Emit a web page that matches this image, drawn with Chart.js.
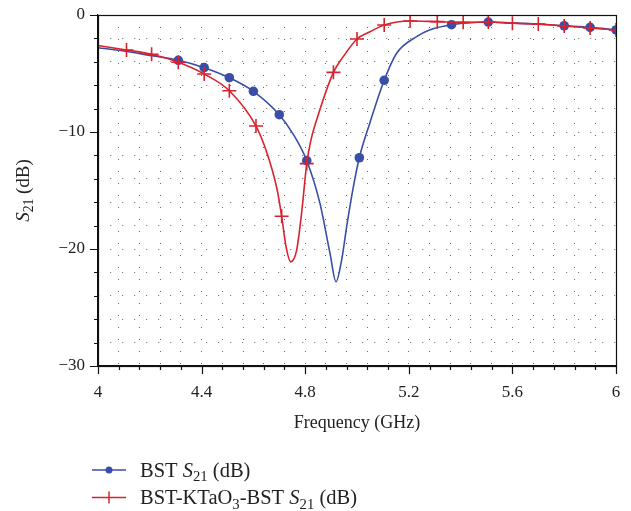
<!DOCTYPE html>
<html>
<head>
<meta charset="utf-8">
<script src="https://cdn.jsdelivr.net/npm/chart.js@4.4.1/dist/chart.umd.min.js"></script>
<style>
  html, body { margin: 0; padding: 0; background: #fff; }
  #wrap { width: 631px; height: 511px; }
</style>
</head>
<body>
<div id="wrap"><canvas id="chart" width="631" height="511"></canvas></div>
<script>
// BST curve
const bstFreq = [4.0, 4.1, 4.2, 4.31, 4.41, 4.507, 4.6, 4.7, 4.754, 4.806, 4.857, 4.896, 4.919, 4.941, 4.96, 4.985, 5.009, 5.05, 5.105, 5.153, 5.23, 5.28, 5.365, 5.507, 5.6, 5.7, 5.8, 5.9, 6.0];
const bstS21  = [-2.8, -3.08, -3.45, -3.87, -4.5, -5.36, -6.52, -8.52, -10.2, -12.45, -16.1, -20.4, -22.8, -20.9, -18.1, -14.8, -12.2, -9.2, -5.58, -3.27, -1.85, -1.28, -0.83, -0.6, -0.68, -0.78, -0.92, -1.06, -1.28];
const bstMarkFreq = [4.31, 4.41, 4.507, 4.6, 4.7, 4.806, 5.009, 5.105, 5.365, 5.507, 5.8, 5.9, 6.0];
const bstMarkS21  = [-3.87, -4.5, -5.36, -6.52, -8.52, -12.45, -12.2, -5.58, -0.83, -0.6, -0.92, -1.06, -1.28];

// BST-KTaO3-BST curve
const ktoFreq = [4.0, 4.11, 4.207, 4.31, 4.41, 4.507, 4.61, 4.651, 4.692, 4.709, 4.726, 4.744, 4.767, 4.786, 4.806, 4.822, 4.844, 4.909, 4.947, 5.0, 5.05, 5.105, 5.205, 5.31, 5.41, 5.507, 5.6, 5.7, 5.8, 5.9, 6.0];
const ktoS21  = [-2.6, -2.99, -3.36, -4.04, -5.04, -6.47, -9.49, -11.7, -14.96, -17.2, -19.8, -21.1, -20.1, -16.95, -12.7, -10.7, -8.97, -4.9, -3.56, -2.05, -1.43, -0.85, -0.51, -0.57, -0.63, -0.6, -0.71, -0.77, -0.94, -1.11, -1.28];
const ktoMarkFreq = [4.11, 4.207, 4.31, 4.41, 4.507, 4.61, 4.709, 4.806, 4.909, 5.0, 5.105, 5.205, 5.31, 5.41, 5.507, 5.6, 5.7, 5.8, 5.9, 6.0];
const ktoMarkS21  = [-2.99, -3.36, -4.04, -5.04, -6.47, -9.49, -17.2, -12.7, -4.9, -2.05, -0.85, -0.51, -0.57, -0.63, -0.6, -0.71, -0.77, -0.94, -1.11, -1.28];

const xMajor = [4, 4.4, 4.8, 5.2, 5.6, 6];
const yMajor = [0, -10, -20, -30];

const BLUE = '#3a4ea6';
const RED = '#d8232f';
const SERIF = '"Liberation Serif", "DejaVu Serif", serif';

const pts = (xs, ys) => xs.map((x, i) => ({ x: x, y: ys[i] }));
const isMajor = (v, list) => list.some(m => Math.abs(m - v) < 1e-6);

// draw text made of pieces (normal / italic / subscript)
function drawRich(ctx, parts, x, y, size) {
  let cx = x;
  parts.forEach(p => {
    const fs = p.sub ? size * 0.72 : size;
    ctx.font = (p.it ? 'italic ' : '') + fs + 'px ' + SERIF;
    ctx.fillText(p.t, cx, y + (p.sub ? size * 0.22 : 0));
    cx += ctx.measureText(p.t).width;
  });
  return cx - x;
}
function richWidth(ctx, parts, size) {
  let w = 0;
  parts.forEach(p => {
    const fs = p.sub ? size * 0.72 : size;
    ctx.font = (p.it ? 'italic ' : '') + fs + 'px ' + SERIF;
    w += ctx.measureText(p.t).width;
  });
  return w;
}

const decorations = {
  id: 'decorations',
  afterDraw(chart) {
    const ctx = chart.ctx;
    const a = chart.chartArea;
    const xs = chart.scales.x, ys = chart.scales.y;
    ctx.save();
    ctx.strokeStyle = '#111';
    ctx.lineWidth = 1.2;
    // frame
    ctx.strokeRect(Math.round(a.left) + 0.5, Math.round(a.top) + 0.5, Math.round(a.right - a.left), Math.round(a.bottom - a.top));
    // tick marks (outside)
    ctx.beginPath();
    xs.ticks.forEach(t => {
      const px = Math.round(xs.getPixelForValue(t.value)) + 0.5;
      const len = isMajor(t.value, xMajor) ? 8 : 4;
      ctx.moveTo(px, a.bottom);
      ctx.lineTo(px, a.bottom + len);
    });
    ys.ticks.forEach(t => {
      const py = Math.round(ys.getPixelForValue(t.value)) + 0.5;
      const len = isMajor(t.value, yMajor) ? 8 : 4;
      ctx.moveTo(a.left, py);
      ctx.lineTo(a.left - len, py);
    });
    ctx.stroke();

    // y axis title
    ctx.fillStyle = '#222';
    ctx.textBaseline = 'alphabetic';
    const yParts = [{ t: 'S', it: true }, { t: '21', sub: true }, { t: ' (dB)' }];
    const yw = richWidth(ctx, yParts, 19);
    ctx.save();
    ctx.translate(29, (a.top + a.bottom) / 2 + yw / 2);
    ctx.rotate(-Math.PI / 2);
    drawRich(ctx, yParts, 0, 0, 19);
    ctx.restore();

    // legend
    const rows = [
      { color: BLUE, style: 'dot', parts: [{ t: 'BST ' }, { t: 'S', it: true }, { t: '21', sub: true }, { t: ' (dB)' }] },
      { color: RED, style: 'cross', parts: [{ t: 'BST-KTaO' }, { t: '3', sub: true }, { t: '-BST ' }, { t: 'S', it: true }, { t: '21', sub: true }, { t: ' (dB)' }] }
    ];
    rows.forEach((r, i) => {
      const ly = 470 + i * 27.5;
      ctx.strokeStyle = r.color;
      ctx.fillStyle = r.color;
      ctx.lineWidth = 1.5;
      ctx.beginPath();
      ctx.moveTo(92, ly); ctx.lineTo(126, ly);
      ctx.stroke();
      if (r.style === 'dot') {
        ctx.beginPath(); ctx.arc(109, ly, 3.5, 0, Math.PI * 2); ctx.fill();
      } else {
        ctx.beginPath();
        ctx.moveTo(109, ly - 6); ctx.lineTo(109, ly + 6);
        ctx.stroke();
      }
      ctx.fillStyle = '#222';
      drawRich(ctx, r.parts, 140, ly + 6.5, 20.5);
    });
    ctx.restore();
  }
};

new Chart(document.getElementById('chart').getContext('2d'), {
  type: 'line',
  data: {
    datasets: [
      {
        label: 'BST-KTaO3-BST S21 (dB)',
        data: pts(ktoMarkFreq, ktoMarkS21),
        showLine: false,
        pointStyle: 'cross',
        pointRadius: 7,
        pointBorderWidth: 1.6,
        borderColor: RED,
        backgroundColor: RED,
        order: 0
      },
      {
        label: 'BST-KTaO3-BST curve',
        data: pts(ktoFreq, ktoS21),
        borderColor: RED,
        borderWidth: 1.6,
        pointRadius: 0,
        cubicInterpolationMode: 'monotone',
        fill: false,
        order: 1
      },
      {
        label: 'BST S21 (dB)',
        data: pts(bstMarkFreq, bstMarkS21),
        showLine: false,
        pointStyle: 'circle',
        pointRadius: 4.8,
        pointBorderWidth: 0,
        borderColor: BLUE,
        backgroundColor: BLUE,
        order: 2
      },
      {
        label: 'BST curve',
        data: pts(bstFreq, bstS21),
        borderColor: BLUE,
        borderWidth: 1.6,
        pointRadius: 0,
        cubicInterpolationMode: 'monotone',
        fill: false,
        order: 3
      }
    ]
  },
  options: {
    responsive: false,
    animation: false,
    events: [],
    layout: { padding: { left: 0, top: 15, right: 15, bottom: 77 } },
    plugins: {
      legend: { display: false },
      tooltip: { enabled: false }
    },
    scales: {
      x: {
        type: 'linear',
        min: 4,
        max: 6,
        afterFit: s => { s.height = 68; s.paddingLeft = 0; s.paddingRight = 0; },
        afterBuildTicks: s => {
          s.ticks = [];
          for (let k = 0; k <= 25; k++) s.ticks.push({ value: +(4 + k * 0.08).toFixed(2) });
        },
        ticks: {
          autoSkip: false,
          maxRotation: 0,
          padding: 16,
          color: '#222',
          font: { family: SERIF, size: 17 },
          callback: v => isMajor(v, xMajor) ? String(+v.toFixed(1)) : ''
        },
        grid: { color: '#666', lineWidth: 1, drawTicks: false },
        border: { display: true, color: '#111', width: 1.2, dash: [1, 11] },
        title: { display: true, text: 'Frequency (GHz)', color: '#222', font: { family: SERIF, size: 18 }, padding: { top: 13, bottom: 0 } }
      },
      y: {
        type: 'linear',
        min: -30,
        max: 0,
        afterFit: s => { s.width = 98; s.paddingTop = 0; s.paddingBottom = 0; },
        afterBuildTicks: s => {
          s.ticks = [];
          for (let k = 0; k <= 15; k++) s.ticks.push({ value: -30 + k * 2 });
        },
        ticks: {
          autoSkip: false,
          padding: 13,
          color: '#222',
          font: { family: SERIF, size: 17 },
          callback: v => isMajor(v, yMajor) ? (v === 0 ? '0' : '\u2212' + Math.abs(v)) : ''
        },
        grid: { color: '#666', lineWidth: 1, drawTicks: false },
        border: { display: true, color: '#111', width: 1.2, dash: [1, 11] }
      }
    }
  },
  plugins: [decorations]
});
</script>
</body>
</html>
